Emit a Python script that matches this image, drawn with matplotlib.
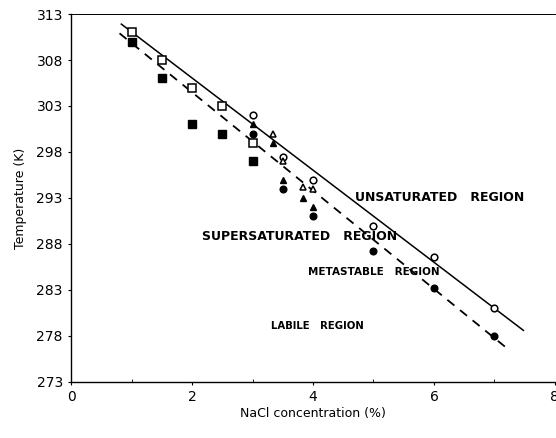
import matplotlib.pyplot as plt

# solubility (open) and nucleation (filled) points, NaCl % vs temperature K
open_sq_x = [1.0, 1.5, 2.0, 2.5, 3.0]
open_sq_t = [311, 308, 305, 303, 299]
fill_sq_x = [1.0, 1.5, 2.0, 2.5, 3.0]
fill_sq_t = [310, 306, 301, 300, 297]

open_ci_x = [3.0, 3.5, 4.0, 5.0, 6.0, 7.0]
open_ci_t = [302, 297.5, 295, 290, 286.6, 281]
fill_ci_x = [3.0, 3.5, 4.0, 5.0, 6.0, 7.0]
fill_ci_t = [300, 294, 291, 287.2, 283.2, 278]

open_tr_x = [3.33, 3.5, 3.83, 4.0]
open_tr_t = [300, 297, 294.2, 294]
fill_tr_x = [3.0, 3.33, 3.5, 3.83, 4.0]
fill_tr_t = [301, 299, 295, 293, 292]

# fitted boundaries
sol_x = [0.83, 7.48]
sol_t = [311.9, 278.6]
meta_x = [0.8, 7.2]
meta_t = [310.9, 276.7]

fig = plt.figure(figsize=(5.56, 4.38), dpi=100)
ax = fig.add_axes([0.128, 0.128, 0.87, 0.84])

ax.plot(sol_x, sol_t, color='black', lw=1.1)
ax.plot(meta_x, meta_t, color='black', lw=1.3, ls=(0, (5, 4)))

ax.plot(open_sq_x, open_sq_t, 's', ms=5.5, mfc='white', mec='black', mew=1.1)
ax.plot(fill_sq_x, fill_sq_t, 's', ms=5.5, color='black')
ax.plot(open_ci_x, open_ci_t, 'o', ms=4.8, mfc='white', mec='black', mew=1.1)
ax.plot(fill_ci_x, fill_ci_t, 'o', ms=4.8, color='black')
ax.plot(open_tr_x, open_tr_t, '^', ms=5, mfc='white', mec='black', mew=1.1)
ax.plot(fill_tr_x, fill_tr_t, '^', ms=5, color='black')

lbl = dict(fontweight='bold', ha='center', va='center')
ax.text(6.1, 293.0, 'UNSATURATED   REGION', fontsize=9, **lbl)
ax.text(3.78, 288.8, 'SUPERSATURATED   REGION', fontsize=9, **lbl)
ax.text(5.0, 285.0, 'METASTABLE   REGION', fontsize=7.5, **lbl)
ax.text(4.08, 279.1, 'LABILE   REGION', fontsize=7.3, **lbl)

ax.set_xlim(0, 8)
ax.set_ylim(273, 313)
ax.set_xticks([0, 2, 4, 6, 8])
ax.set_xticks([1, 3, 5, 7], minor=True)
ax.set_yticks(range(273, 314, 5))
ax.tick_params(axis='both', labelsize=10, length=2.5, width=0.8)
ax.tick_params(axis='x', which='minor', length=2, direction='in')
ax.spines['right'].set_visible(False)
for s in ['left', 'bottom']:
    ax.spines[s].set_linewidth(1.0)
ax.spines['top'].set_linewidth(0.7)

ax.set_xlabel('NaCl concentration (%)', fontsize=9, labelpad=2)
ax.set_ylabel('Temperature (K)', fontsize=9, labelpad=7)

fig.savefig('out.png', dpi=100)
